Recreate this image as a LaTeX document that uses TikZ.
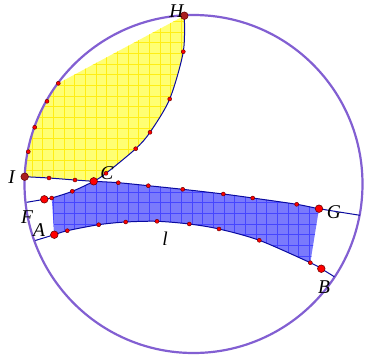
\documentclass[tikz,border=0pt]{standalone}
\usepackage{fontspec}
\setmainfont{Liberation Serif}
\definecolor{diskpurple}{RGB}{130,95,210}
\definecolor{geoblue}{RGB}{10,10,160}
\definecolor{bluefill}{RGB}{122,122,252}
\definecolor{bluegrid}{RGB}{70,70,255}
\definecolor{yellowfill}{RGB}{255,255,115}
\definecolor{yellowgrid}{RGB}{255,238,20}
\definecolor{darkdot}{RGB}{170,30,30}

\begin{document}
\begin{tikzpicture}[x=1pt, y=-1pt,
  lbl/.style={font=\fontsize{19.5}{19.5}\selectfont\itshape, inner sep=0pt},
  geo/.style={draw=geoblue, line width=1pt},
  smalldot/.style={fill=red, draw=black!60!red, line width=0.45pt},
  bigdot/.style={fill=red, draw=black!60!red, line width=0.55pt}]
  % Setup
  \def\R{169}
  \def\rs{2.0}
  \def\rb{3.8}
  \useasboundingbox (0,0) rectangle (365,357);

  % Points
  \coordinate (O) at (193.5,184);
  \coordinate (H) at (184.3,15.7);
  \coordinate (I) at (24.7,176.7);
  \coordinate (C) at (93.7,181.3);
  \coordinate (F) at (44.3,199.3);
  \coordinate (G) at (319,208.7);
  \coordinate (A) at (54.3,234.7);
  \coordinate (B) at (321.3,268.7);
  % points on HF
  \coordinate (h1) at (183.3,51.7);
  \coordinate (h2) at (169.7,99);
  \coordinate (h3) at (150,132.3);
  \coordinate (h4) at (135.7,148.7);
  \coordinate (h5) at (106,173.3);
  \coordinate (f1) at (72.3,191.3);
  \coordinate (f2) at (51.7,198);
  \coordinate (fe) at (26.7,202.3);
  % points on IG
  \coordinate (i1) at (49,178);
  \coordinate (i2) at (75,180);
  \coordinate (g1) at (118.3,182.7);
  \coordinate (g2) at (148.3,185.7);
  \coordinate (g3) at (182.7,189.3);
  \coordinate (g4) at (223.3,194);
  \coordinate (g5) at (252.7,198);
  \coordinate (g6) at (296.7,204.3);
  \coordinate (ge) at (360,215.3);
  % points on AB
  \coordinate (ae) at (35.3,240.5);
  \coordinate (a1) at (67.3,230.7);
  \coordinate (a2) at (98.7,224.7);
  \coordinate (a3) at (125.7,222);
  \coordinate (a4) at (157,221.3);
  \coordinate (a5) at (189.3,224);
  \coordinate (a6) at (219,229);
  \coordinate (a7) at (259.3,240.3);
  \coordinate (a8) at (310.3,262.7);
  \coordinate (be) at (334.3,276.7);
  % points on the disk edge
  \coordinate (y1) at (28.3,151.7);
  \coordinate (y2) at (34.7,127.3);
  \coordinate (y3) at (47,101.3);
  \coordinate (y4) at (58.3,83.3);

  % Yellow region
  \fill[yellowfill, path picture={
      \draw[yellowgrid, line width=0.9pt, step=10.67pt]
        (0,0) grid (365,357);}]
    (I) -- (y1) -- (y2) -- (y3) -- (y4) -- (H)
    plot[smooth] coordinates {(H) (h1) (h2) (h3) (h4) (h5) (C)}
    -- plot[smooth] coordinates {(C) (i2) (i1) (I)} -- cycle;

  % Blue region
  \fill[bluefill, path picture={
      \draw[bluegrid, line width=0.8pt, step=10.67pt]
        (3.3,6.3) grid (365,357);}]
    plot[smooth] coordinates {(f2) (f1) (C)}
    -- plot[smooth] coordinates {(C) (g1) (g2) (g3) (g4) (g5) (g6) (G)}
    -- (a8)
    -- plot[smooth] coordinates {(a8) (a7) (a6) (a5) (a4) (a3) (a2) (a1) (A)}
    -- cycle;

  % Boundary of the disk
  \draw[diskpurple, line width=2.2pt] (O) circle (\R pt);

  % Geodesics
  \draw[geo] plot[smooth] coordinates
    {(H) (h1) (h2) (h3) (h4) (h5) (C) (f1) (f2) (F) (fe)};
  \draw[geo] plot[smooth] coordinates
    {(I) (i1) (i2) (C) (g1) (g2) (g3) (g4) (g5) (g6) (G) (ge)};
  \draw[geo] plot[smooth] coordinates
    {(ae) (A) (a1) (a2) (a3) (a4) (a5) (a6) (a7) (a8) (B) (be)};

  % Small points
  \filldraw[smalldot] (h1) circle (\rs pt) (h2) circle (\rs pt)
    (h3) circle (\rs pt) (h4) circle (\rs pt) (h5) circle (\rs pt)
    (f1) circle (\rs pt) (f2) circle (\rs pt)
    (i1) circle (\rs pt) (i2) circle (\rs pt);
  \filldraw[smalldot] (g1) circle (\rs pt) (g2) circle (\rs pt)
    (g3) circle (\rs pt) (g4) circle (\rs pt) (g5) circle (\rs pt)
    (g6) circle (\rs pt);
  \filldraw[smalldot] (a1) circle (\rs pt) (a2) circle (\rs pt)
    (a3) circle (\rs pt) (a4) circle (\rs pt) (a5) circle (\rs pt)
    (a6) circle (\rs pt) (a7) circle (\rs pt) (a8) circle (\rs pt);
  \filldraw[smalldot] (y1) circle (\rs pt) (y2) circle (\rs pt)
    (y3) circle (\rs pt) (y4) circle (\rs pt);

  % Named points
  \filldraw[bigdot] (A) circle (\rb pt) (B) circle (\rb pt)
    (C) circle (\rb pt) (F) circle (\rb pt) (G) circle (\rb pt);
  \filldraw[bigdot, fill=darkdot] (H) circle (\rb pt) (I) circle (\rb pt);

  % Labels
  \node[lbl] (labH) at (176.5,11) {H};
  \node[lbl] (labI) at (11.5,177) {I};
  \node[lbl] (labC) at (107,173) {C};
  \node[lbl] (labF) at (27,217) {F};
  \node[lbl] (labA) at (39,230) {A};
  \node[lbl] (labG) at (334,212) {G};
  \node[lbl] (labB) at (324,287) {B};
  \node[lbl] (labl) at (165,239) {l};
\end{tikzpicture}
\end{document}
